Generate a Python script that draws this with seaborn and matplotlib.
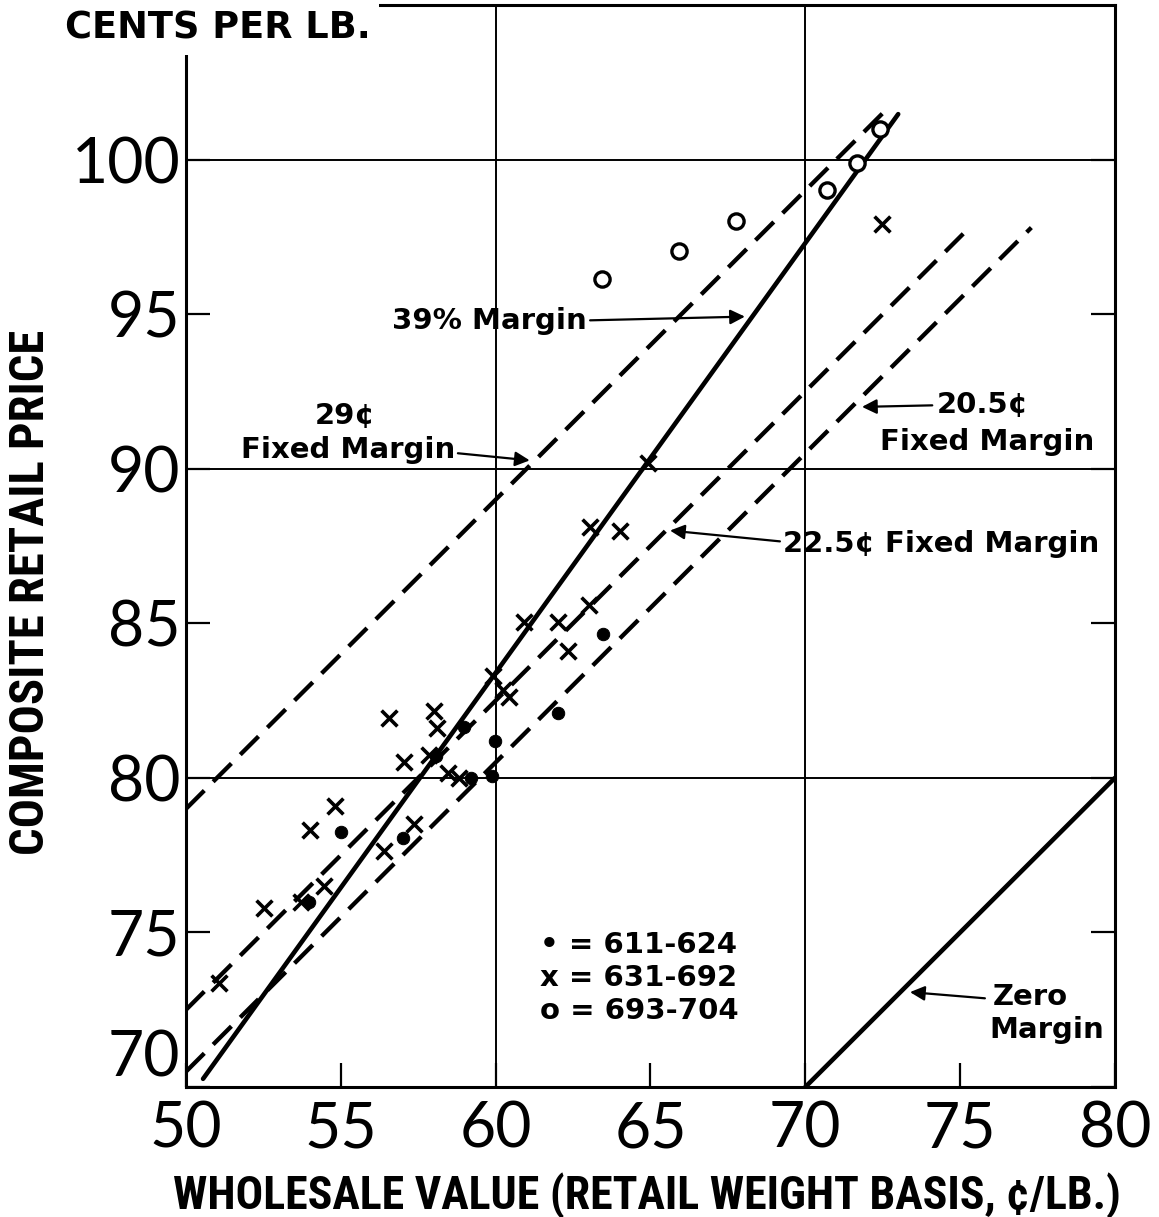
import pandas as pd
import seaborn as sns
import matplotlib.pyplot as plt

sns.set_theme(style="white")
sns.set_style("ticks")

# points, one list pair per key group
dot_x = [53.97, 55.0, 57.0, 58.07, 58.98, 59.2, 59.88, 59.98, 62.01, 63.46]
dot_y = [76.0, 78.25, 78.05, 80.7, 81.65, 80.0, 80.05, 81.2, 82.1, 84.65]
cross_x = [51.07, 52.52, 53.71, 54.0, 54.46, 54.81, 56.39, 56.55, 57.04, 57.36, 57.85,
           58.01, 58.1, 58.46, 58.81, 59.91, 60.24, 60.43, 60.91, 62.01, 62.33, 63.01,
           63.05, 64.01, 64.92, 72.47]
cross_y = [73.35, 75.8, 76.0, 78.3, 76.5, 79.1, 77.65, 81.95, 80.5, 78.5, 80.75,
           82.15, 81.6, 80.15, 80.0, 83.3, 82.85, 82.6, 85.05, 85.05, 84.1, 85.6,
           88.1, 88.0, 90.2, 97.9]
circle_x = [63.43, 65.92, 67.76, 70.7, 71.67, 72.41]
circle_y = [96.15, 97.05, 98.0, 99.0, 99.9, 101.0]
group_names = ["611-624", "631-692", "693-704"]

# margin lines: retail = wholesale * factor + fixed cents
line_factor = [1.39, 1.0, 1.0, 1.0, 1.0]
line_fixed = [0.0, 29.0, 22.5, 20.5, 0.0]
line_start = [50.55, 50.0, 50.0, 50.0, 70.0]
line_end = [73.0, 72.7, 75.1, 77.3, 80.0]
line_dashed = [False, True, True, True, False]

xticks = [50, 55, 60, 65, 70, 75, 80]
yticks = [70, 75, 80, 85, 90, 95, 100]

fig = plt.figure(figsize=(11.59, 12.17), dpi=100)
ax = fig.add_axes([0.1605, 0.1068, 0.8015, 0.8891])

for v in [60, 70]:
    ax.axvline(v, color="black", lw=1.4, zorder=1)
for v in [80, 90, 100]:
    ax.axhline(v, color="black", lw=1.4, zorder=1)

for f, c, a, b, d in zip(line_factor, line_fixed, line_start, line_end, line_dashed):
    seg = pd.DataFrame({"x": [a, b], "y": [a * f + c, b * f + c]})
    ls = (0, (6, 2.9)) if d else "-"
    lw = 3.1 if d else 3.3
    sns.lineplot(data=seg, x="x", y="y", ax=ax, color="black", lw=lw,
                 linestyle=ls, zorder=3)

sns.scatterplot(x=dot_x, y=dot_y, ax=ax, marker="o", s=80, color="black",
                edgecolor="black", zorder=4)
sns.scatterplot(x=cross_x, y=cross_y, ax=ax, marker="x", s=130, color="black",
                linewidth=2.6, zorder=4)
sns.scatterplot(x=circle_x, y=circle_y, ax=ax, marker="o", s=120, facecolor="white",
                edgecolor="black", linewidth=2.4, zorder=4)

ax.set_xlim(50, 80)
ax.set_ylim(70, 105)
ax.set_xticks(xticks)
ax.set_yticks(yticks)
ax.set_xticklabels([str(t) for t in xticks], family="Lato")
ax.set_yticklabels([str(t) for t in yticks], family="Lato")
ax.get_yticklabels()[0].set_va("bottom")
ax.tick_params(direction="in", length=17, width=1.6, right=True, labelsize=45,
               colors="black")
ax.tick_params(axis="x", pad=10)
ax.tick_params(axis="y", pad=4)
for s in ax.spines.values():
    s.set_linewidth(2.2)
    s.set_color("black")
ax.spines["top"].set_bounds(56.1, 80)
ax.spines["left"].set_bounds(70, 103.5)

lab = dict(family=["Roboto Condensed", "Liberation Sans Narrow", "Liberation Sans"],
           weight="bold", color="black")
ax.set_xlabel("WHOLESALE VALUE (RETAIL WEIGHT BASIS, ¢/LB.)", fontsize=33,
              va="center", **lab)
ax.xaxis.set_label_coords(0.496, -0.1)
ax.set_ylabel("COMPOSITE RETAIL PRICE", fontsize=35, va="center", **lab)
ax.yaxis.set_label_coords(-0.1668, 0.4575)

txt = dict(family="DejaVu Sans", weight="bold", fontsize=21, color="black")
arrow = dict(arrowstyle="-|>", color="black", lw=1.6, mutation_scale=22,
             shrinkA=0, shrinkB=0)
fig.text(0.056, 0.977, "CENTS PER LB.", ha="left", va="center", fontsize=26.5,
         family="DejaVu Sans", weight="bold", color="black",
         bbox=dict(facecolor="white", edgecolor="none", pad=6))

ax.text(62.95, 94.79, "39% Margin", ha="right", va="center", **txt)
ax.annotate("", xy=(68.05, 94.92), xytext=(63.05, 94.8), arrowprops=arrow)

ax.text(55.13, 91.72, "29¢", ha="center", va="center", **txt)
ax.text(58.69, 90.59, "Fixed Margin", ha="right", va="center", **txt)
ax.annotate("", xy=(61.1, 90.27), xytext=(58.78, 90.5), arrowprops=arrow)

ax.text(74.25, 92.05, "20.5¢", ha="left", va="center", **txt)
ax.text(75.86, 90.88, "Fixed Margin", ha="center", va="center", **txt)
ax.annotate("", xy=(71.83, 92.0), xytext=(74.1, 92.05), arrowprops=arrow)

ax.text(69.28, 87.55, "22.5¢ Fixed Margin", ha="left", va="center", **txt)
ax.annotate("", xy=(65.63, 88.0), xytext=(69.18, 87.65), arrowprops=arrow)

ax.text(76.06, 72.91, "Zero", ha="left", va="center", **txt)
ax.text(75.96, 71.84, "Margin", ha="left", va="center", **txt)
ax.annotate("", xy=(73.38, 73.07), xytext=(75.8, 72.87), arrowprops=arrow)

key = ["• = " + group_names[0], "x = " + group_names[1], "o = " + group_names[2]]
for i, k in enumerate(key):
    ax.text(61.43, 74.59 - 1.07 * i, k, ha="left", va="center",
            **{**txt, "fontsize": 21})

fig.savefig("out.png", dpi=100)
